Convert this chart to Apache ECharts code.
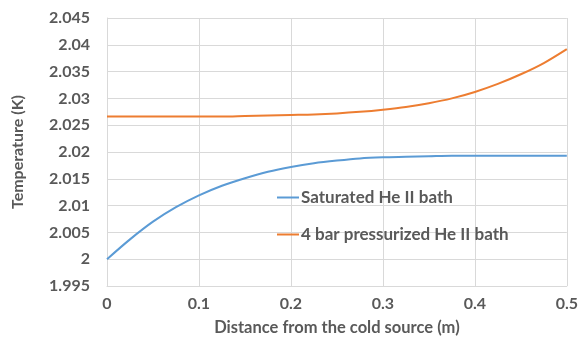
<!DOCTYPE html>
<html>
<head>
<meta charset="utf-8">
<script src="https://cdn.jsdelivr.net/npm/echarts@6/dist/echarts.min.js"></script>
<style>
  html, body { margin: 0; padding: 0; background: #fff; }
  #chart { width: 581px; height: 344px; }
</style>
</head>
<body>
<div id="chart"></div>
<script>
// distance from the cold source (m)
const distance = [0, 0.025, 0.05, 0.075, 0.1, 0.125, 0.15, 0.175, 0.2, 0.225, 0.25,
  0.275, 0.3, 0.325, 0.35, 0.375, 0.4, 0.425, 0.45, 0.475, 0.5];
// Saturated He II bath (K)
const saturated = [2.0, 2.0037, 2.0070, 2.0097, 2.0119, 2.0137, 2.0151, 2.0163, 2.0172, 2.0179, 2.0184,
  2.0188, 2.0190, 2.0191, 2.0192, 2.0193, 2.0193, 2.0193, 2.0193, 2.0193, 2.0193];
// 4 bar pressurized He II bath (K)
const pressurized = [2.0266, 2.0266, 2.0266, 2.0266, 2.0266, 2.0266, 2.0267, 2.0268, 2.0269, 2.0270, 2.0272,
  2.0275, 2.0279, 2.0284, 2.0291, 2.0300, 2.0312, 2.0327, 2.0345, 2.0366, 2.0392];
const seriesNames = ['Saturated He II bath', '4 bar pressurized He II bath'];

const textColor = '#595959';
const font = 'Lato, "Open Sans", sans-serif';

const chartBox = echarts.init(document.getElementById('chart'));
const option = {
  animation: false,
  color: ['#5B9BD5', '#ED7D31'],
  grid: {
    left: 107,
    right: 13,
    top: 18,
    bottom: 58,
  },
  legend: {
    orient: 'vertical',
    left: 272,
    top: 184,
    itemWidth: 22,
    itemHeight: 2,
    itemGap: 20,
    icon: 'rect',
    data: seriesNames,
    textStyle: {
      color: textColor,
      fontSize: 17,
      fontWeight: 'bold',
      fontFamily: font,
      padding: [0, 0, 0, -3],
    },
  },
  xAxis: {
    type: 'value',
    min: 0,
    max: 0.5,
    interval: 0.1,
    name: 'Distance from the cold source (m)',
    nameLocation: 'middle',
    nameGap: 33,
    nameTextStyle: {
      color: textColor,
      fontSize: 16.5,
      fontWeight: 'bold',
      fontFamily: font,
    },
    axisLine: { show: true, lineStyle: { color: '#d9d9d9', width: 1 } },
    axisTick: { show: false },
    axisLabel: {
      color: textColor,
      fontSize: 16,
      fontWeight: 'bold',
      fontFamily: font,
      margin: 10,
    },
    splitLine: { show: true, lineStyle: { color: '#d9d9d9', width: 1 } },
  },
  yAxis: {
    type: 'value',
    min: 1.995,
    max: 2.045,
    interval: 0.005,
    name: 'Temperature (K)',
    nameLocation: 'middle',
    nameRotate: 90,
    nameGap: 81,
    nameTextStyle: {
      color: textColor,
      fontSize: 16,
      fontWeight: 'bold',
      fontFamily: font,
    },
    axisLine: { show: true, lineStyle: { color: '#d9d9d9', width: 1 } },
    axisTick: { show: false },
    axisLabel: {
      color: textColor,
      fontSize: 16,
      fontWeight: 'bold',
      fontFamily: font,
      margin: 17,
      formatter: v => String(parseFloat(v.toFixed(3))),
    },
    splitLine: { show: true, lineStyle: { color: '#d9d9d9', width: 1 } },
  },
  series: [
    {
      name: seriesNames[0],
      type: 'line',
      smooth: 0.3,
      symbol: 'none',
      lineStyle: { width: 2 },
      data: distance.map((x, i) => [x, saturated[i]]),
    },
    {
      name: seriesNames[1],
      type: 'line',
      smooth: 0.3,
      symbol: 'none',
      lineStyle: { width: 2 },
      data: distance.map((x, i) => [x, pressurized[i]]),
    },
  ],
};
chartBox.setOption(option);
</script>
</body>
</html>
